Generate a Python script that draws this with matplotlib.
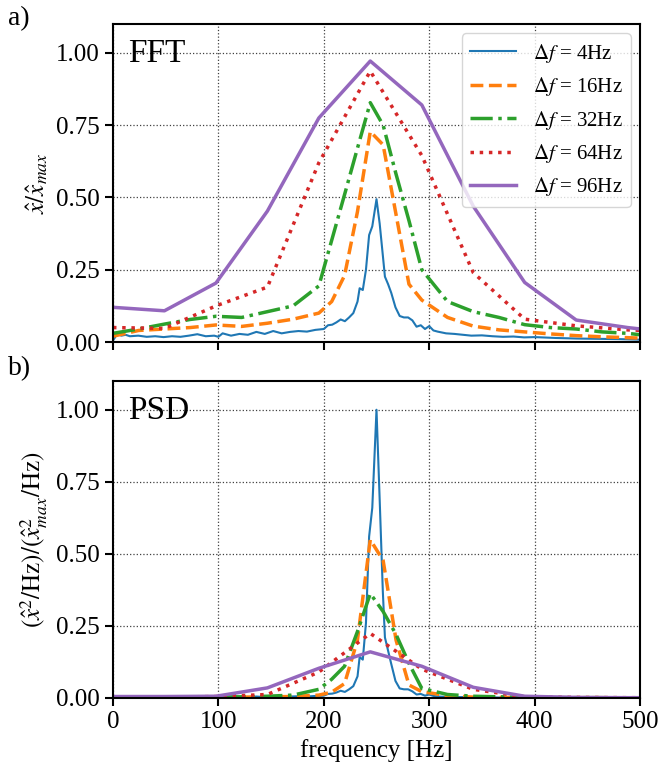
import numpy as np
import matplotlib
matplotlib.use("Agg")
import matplotlib.pyplot as plt

plt.rcParams['font.family'] = ['Liberation Serif', 'DejaVu Serif']
plt.rcParams['mathtext.fontset'] = 'stix'
plt.rcParams['font.size'] = 18

# ==========================
# DATA
# ==========================
labels = [r'$\Delta f$ = 4Hz', r'$\Delta f$ = 16Hz', r'$\Delta f$ = 32Hz',
          r'$\Delta f$ = 64Hz', r'$\Delta f$ = 96Hz']

# df = 4 Hz
freq_4 = [0, 4, 8, 12, 16, 24, 32, 40, 48, 56, 64, 72, 80, 88, 96, 100, 104,
          112, 120, 128, 136, 144, 152, 160, 168, 176, 184, 192, 200, 204,
          208, 212, 216, 220, 224, 228, 232, 234, 237, 240, 243, 246, 250,
          253, 256, 258, 261, 264, 268, 272, 276, 280, 284, 288, 292, 296,
          300, 304, 308, 316, 324, 332, 340, 350, 360, 370, 380, 390, 400,
          420, 440, 460, 480, 500]
fft_4 = [0.005, 0.028, 0.022, 0.025, 0.02, 0.022, 0.018, 0.02, 0.017, 0.02,
         0.018, 0.022, 0.027, 0.02, 0.022, 0.018, 0.03, 0.022, 0.028, 0.025,
         0.035, 0.028, 0.038, 0.03, 0.035, 0.038, 0.036, 0.042, 0.045, 0.058,
         0.06, 0.068, 0.078, 0.072, 0.085, 0.1, 0.14, 0.186, 0.18, 0.25,
         0.37, 0.4, 0.494, 0.41, 0.3, 0.226, 0.2, 0.17, 0.12, 0.09, 0.085,
         0.085, 0.075, 0.053, 0.058, 0.045, 0.055, 0.04, 0.036, 0.03, 0.028,
         0.025, 0.022, 0.023, 0.02, 0.018, 0.019, 0.016, 0.017, 0.014, 0.012,
         0.011, 0.01, 0.008]
psd_4 = [0, 0.003, 0.002, 0.003, 0.002, 0.002, 0.001, 0.002, 0.001, 0.002,
         0.001, 0.002, 0.003, 0.002, 0.002, 0.001, 0.004, 0.002, 0.003, 0.003,
         0.005, 0.003, 0.006, 0.004, 0.005, 0.006, 0.005, 0.007, 0.008, 0.014,
         0.015, 0.019, 0.025, 0.021, 0.03, 0.041, 0.075, 0.142, 0.133, 0.26,
         0.56, 0.66, 1.0, 0.69, 0.37, 0.21, 0.164, 0.118, 0.059, 0.033, 0.03,
         0.03, 0.023, 0.012, 0.014, 0.008, 0.012, 0.007, 0.005, 0.004, 0.003,
         0.003, 0.002, 0.002, 0.002, 0.001, 0.001, 0.001, 0.001, 0.001, 0.001,
         0, 0, 0]

# df = 16 Hz and 32 Hz share one grid
freq_16 = [0, 24.4, 48.8, 73.2, 97.7, 122.1, 146.5, 170.9, 195.3, 207.5,
           219.7, 231.9, 244.1, 256.3, 268.6, 280.8, 293.0, 317.4, 341.8,
           366.2, 390.6, 415.0, 439.5, 463.9, 488.3, 512.7]
fft_16 = [0.02, 0.04, 0.045, 0.05, 0.059, 0.054, 0.065, 0.079, 0.1, 0.14,
          0.23, 0.45, 0.728, 0.682, 0.44, 0.2, 0.145, 0.085, 0.055, 0.042,
          0.035, 0.028, 0.022, 0.018, 0.015, 0.012]
psd_16 = [0.001, 0.002, 0.002, 0.002, 0.003, 0.003, 0.004, 0.005, 0.01,
          0.02, 0.05, 0.2, 0.549, 0.477, 0.2, 0.045, 0.022, 0.008, 0.003,
          0.002, 0.002, 0.001, 0.001, 0.001, 0, 0]

freq_32 = freq_16
fft_32 = [0.03, 0.045, 0.062, 0.078, 0.089, 0.085, 0.105, 0.125, 0.194,
          0.352, 0.51, 0.67, 0.828, 0.75, 0.58, 0.42, 0.25, 0.14, 0.105,
          0.085, 0.06, 0.05, 0.045, 0.035, 0.03, 0.02]
psd_32 = [0.001, 0.001, 0.002, 0.003, 0.004, 0.004, 0.006, 0.01, 0.03,
          0.065, 0.11, 0.23, 0.362, 0.3, 0.22, 0.12, 0.033, 0.012, 0.006,
          0.004, 0.002, 0.001, 0.001, 0.001, 0, 0]

# df = 64 Hz and 96 Hz
freq_64 = [0, 48.8, 97.7, 146.5, 195.3, 244.1, 293.0, 341.8, 390.6, 439.5,
           488.3, 537.1]
fft_64 = [0.05, 0.047, 0.125, 0.19, 0.62, 0.937, 0.645, 0.24, 0.079, 0.056,
          0.042, 0.035]
psd_64 = [0.003, 0.003, 0.005, 0.012, 0.09, 0.224, 0.10, 0.03, 0.004, 0.002,
          0.001, 0.001]

freq_96 = freq_64
fft_96 = [0.12, 0.108, 0.204, 0.453, 0.775, 0.972, 0.82, 0.47, 0.206, 0.076,
          0.05, 0.03]
psd_96 = [0.005, 0.005, 0.006, 0.035, 0.103, 0.16, 0.11, 0.037, 0.006,
          0.002, 0.001, 0.001]

freqs = [freq_4, freq_16, freq_32, freq_64, freq_96]
ffts = [fft_4, fft_16, fft_32, fft_64, fft_96]
psds = [psd_4, psd_16, psd_32, psd_64, psd_96]
styles = ['-', '--', '-.', ':', '-']
widths = [1.5, 2.5, 2.5, 2.5, 2.5]

# ==========================
# GRAFICO
# ==========================
fig = plt.figure(figsize=(6.6, 7.83), dpi=100)
ax1 = fig.add_axes([0.1712, 0.5632, 0.7985, 0.4061])
ax2 = fig.add_axes([0.1712, 0.1086, 0.7985, 0.4049], sharex=ax1)

for i in range(5):
    ax1.plot(freqs[i], ffts[i], linestyle=styles[i], linewidth=widths[i],
             color='C%d' % i, label=labels[i])
    ax2.plot(freqs[i], psds[i], linestyle=styles[i], linewidth=widths[i],
             color='C%d' % i)

for ax in (ax1, ax2):
    ax.set_xlim(0, 500)
    ax.set_ylim(0, 1.1)
    ax.set_yticks([0, 0.25, 0.5, 0.75, 1.0])
    ax.set_xticks([0, 100, 200, 300, 400, 500])
    ax.grid(True, linestyle=':', color='0.25', linewidth=0.9)
    ax.tick_params(direction='out', length=6, width=1.5)
    for s in ax.spines.values():
        s.set_linewidth(1.5)

ax1.tick_params(labelbottom=False)
ax1.set_ylabel(r'$\hat{x}/\hat{x}_{max}$')
ax2.set_ylabel(r'$(\hat{x}^2/\mathrm{Hz})/(\hat{x}^2_{max}/\mathrm{Hz})$')
ax2.set_xlabel('frequency [Hz]')

ax1.text(0.028, 0.955, 'FFT', transform=ax1.transAxes, fontsize=24, va='top')
ax2.text(0.028, 0.955, 'PSD', transform=ax2.transAxes, fontsize=24, va='top')

ax1.legend(loc='upper right', fontsize=15, handlelength=2.2,
           borderaxespad=0.45)

fig.text(0.012, 0.992, 'a)', fontsize=20, va='top')
fig.text(0.012, 0.545, 'b)', fontsize=20, va='top')

fig.savefig('out.png', dpi=100)
